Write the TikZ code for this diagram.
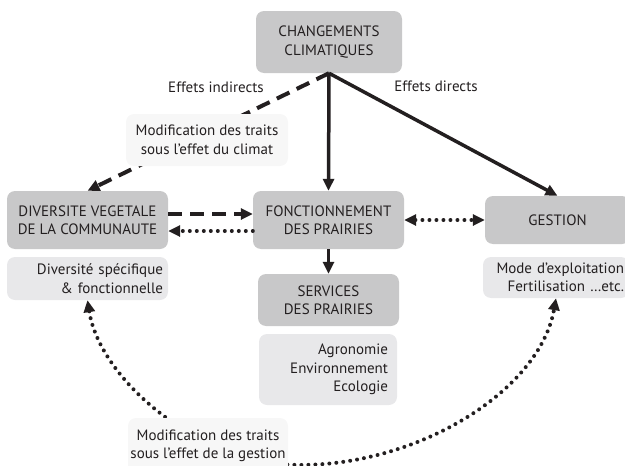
\documentclass[tikz,border=0pt]{standalone}
\usepackage{fontspec}
\setmainfont{PT Sans}
\usetikzlibrary{arrows.meta}
\definecolor{ink}{RGB}{35,31,32}
\definecolor{dk}{RGB}{200,200,201}
\definecolor{lt}{RGB}{232,232,234}
\definecolor{vl}{RGB}{247,247,247}
\tikzset{
  darkbox/.style={rounded corners=8pt, fill=dk, inner sep=0pt, align=center},
  lightbox/.style={rounded corners=8pt, fill=lt, inner ysep=0pt, align=right},
  palebox/.style={rounded corners=8pt, fill=vl, inner sep=0pt, align=center},
  tip/.style={-{Triangle[length=12pt,width=11pt]}},
  solidarrow/.style={draw=ink, line width=3.5pt, tip},
  dasharrow/.style={draw=ink, line width=4pt, dash pattern=on 14pt off 8pt, tip},
  dotarrow/.style={draw=ink, line width=4pt, line cap=round, dash pattern=on 0pt off 7pt, tip},
  dotboth/.style={draw=ink, line width=4pt, line cap=round, dash pattern=on 0pt off 7pt,
    {Triangle[length=12pt,width=11pt]}-{Triangle[length=12pt,width=11pt]}},
}
\begin{document}
\begin{tikzpicture}[x=1pt,y=-1pt, font=\fontsize{15}{18.5}\selectfont, text=ink]
\useasboundingbox (0,0) rectangle (625,466);
\node[darkbox, minimum width=146pt, minimum height=62pt] (chg) at (329,42) {CHANGEMENTS\\CLIMATIQUES};
\node[darkbox, minimum width=161pt, minimum height=58pt] (div) at (87.5,220) {DIVERSITE VEGETALE\\DE LA COMMUNAUTE};
\node[darkbox, minimum width=151pt, minimum height=58pt] (fon) at (328.5,220) {FONCTIONNEMENT\\DES PRAIRIES};
\node[darkbox, minimum width=145pt, minimum height=48pt] (ges) at (557.5,220) {GESTION};
\node[darkbox, minimum width=141pt, minimum height=52pt] (ser) at (328.5,300) {SERVICES\\DES PRAIRIES};
\node[lightbox, text width=151pt, inner xsep=5pt, minimum height=43pt] (div2) at (87.5,278.5) {Diversité spécifique\\\& fonctionnelle};
\node[lightbox, text width=136pt, inner xsep=5pt, minimum height=41pt] (mode) at (556,277.5) {Mode d’exploitation\\Fertilisation …etc.};
\node[lightbox, text width=120pt, inner xsep=9pt, minimum height=71pt] (agr) at (328,369.5) {Agronomie\\Environnement\\Ecologie};
\node (ei) at (216,87) {Effets indirects};
\node (ed) at (436,86) {Effets directs};
\coordinate (bot) at (300,465);
\draw[solidarrow] (chg.south) -- (fon.north);
\draw[solidarrow] (chg.south) -- (ges.north);
\draw[dasharrow] (chg.south) -- (div.north);
\draw[dasharrow] ([yshift=6pt]div.east) -- ([yshift=6pt]fon.west);
\draw[dotarrow] ([yshift=-11pt]fon.west) -- ([yshift=-11pt]div.east);
\draw[dotboth] (fon.east) -- (ges.west);
\draw[solidarrow] (fon.south) -- (ser.north);
\draw[dotboth] (div2.south) .. controls (100,380) and (200,465) .. (bot) .. controls (420,465) and (540,390) .. (mode.south);
\node[palebox, minimum width=162pt, minimum height=52pt] (mc) at (207,140) {Modification des traits\\sous l\symbol{39}effet du climat};
\node[palebox, minimum width=160pt, minimum height=56pt] (mg) at (208,446) {Modification des traits\\sous l\symbol{39}effet de la gestion};
\end{tikzpicture}
\end{document}
